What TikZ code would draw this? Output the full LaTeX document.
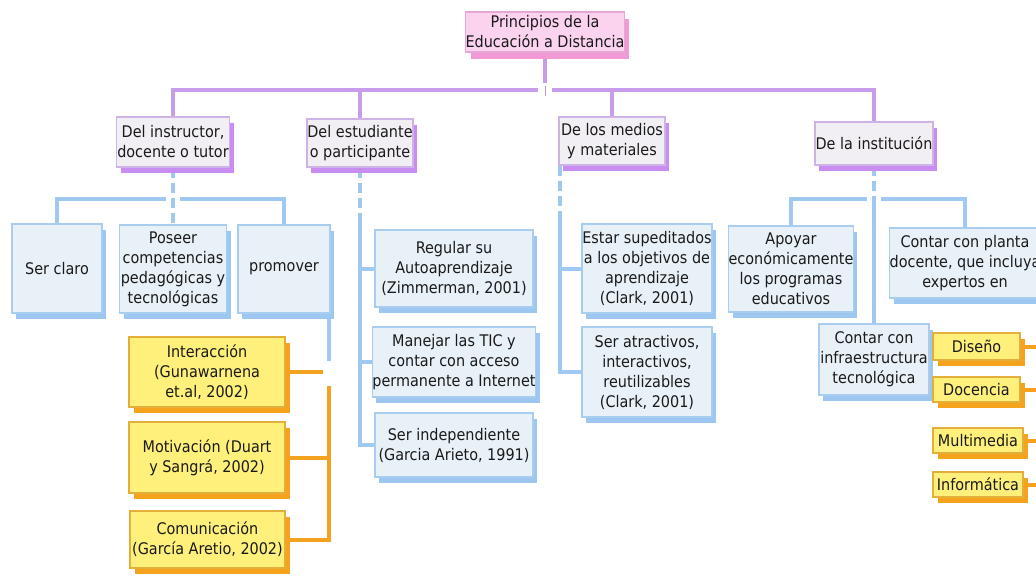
\documentclass[tikz,border=0pt]{standalone}
\usepackage{fontspec}
\setmainfont{DejaVu Sans Condensed}
\usetikzlibrary{shadows}
\pgfdeclarelayer{background}
\pgfsetlayers{background,main}
\definecolor{txt}{HTML}{1A1A1A}
\definecolor{rootfill}{HTML}{FBD3EF}
\definecolor{rootdraw}{HTML}{E6A6D6}
\definecolor{rootshadow}{HTML}{F29AD6}
\definecolor{lvfill}{HTML}{F1EFF3}
\definecolor{lvdraw}{HTML}{CDB3E6}
\definecolor{lvshadow}{HTML}{C98DF2}
\definecolor{purpleline}{HTML}{C79DEB}
\definecolor{bluefill}{HTML}{E8F1F8}
\definecolor{bluedraw}{HTML}{A9CDEE}
\definecolor{blueshadow}{HTML}{9DC7F0}
\definecolor{blueline}{HTML}{9FC9F1}
\definecolor{yfill}{HTML}{FFF07C}
\definecolor{ydraw}{HTML}{E3AE3A}
\definecolor{yshadow}{HTML}{F5A21C}
\definecolor{orangeline}{HTML}{F3A11E}
\begin{document}
\begin{tikzpicture}[x=1pt,y=-1pt,
  base/.style={rectangle, align=center, inner sep=0pt, text=txt,
    font=\fontsize{16}{20}\selectfont, line width=1.1pt},
  sz/.style 2 args={minimum width=#1pt, minimum height=#2pt},
  rootbox/.style={base, fill=rootfill, draw=rootdraw,
    general shadow={fill=rootshadow, shadow xshift=5pt, shadow yshift=-7pt}},
  lvbox/.style={base, fill=lvfill, draw=lvdraw,
    general shadow={fill=lvshadow, shadow xshift=4pt, shadow yshift=-6pt}},
  bluebox/.style={base, fill=bluefill, draw=bluedraw,
    general shadow={fill=blueshadow, shadow xshift=4pt, shadow yshift=-6pt}},
  ybox/.style={base, fill=yfill, draw=ydraw,
    general shadow={fill=yshadow, shadow xshift=5pt, shadow yshift=-6pt}},
  pline/.style={draw=purpleline, line width=4pt},
  bline/.style={draw=blueline, line width=4pt},
  oline/.style={draw=orangeline, line width=4pt},
  dashes/.style={dash pattern=on 10pt off 5pt},
]
\useasboundingbox (0,0) rectangle (1036,579);
\clip (0,0) rectangle (1036,579);

% ---------- nodes ----------
\node[rootbox, sz={156}{40}] (root) at (545,32) {Principios de la\\Educación a Distancia};

\node[lvbox, sz={113}{50}] (ins)  at (173,142)   {Del instructor,\\docente o tutor};
\node[lvbox, sz={106}{48}] (est)  at (360,143)   {Del estudiante\\o participante};
\node[lvbox, sz={106}{48}] (med)  at (612,141)   {De los medios\\y materiales};
\node[lvbox, sz={118}{43}] (inst) at (874,143.5) {De la institución};

\node[bluebox, sz={90}{89}]  (claro)  at (57,268.5)  {Ser claro};
\node[bluebox, sz={107}{88}] (poseer) at (173,269)   {Poseer\\competencias\\pedagógicas y\\tecnológicas};
\node[bluebox, sz={92}{88}]  (prom)   at (284,269)   {promover};
\node[bluebox, sz={158}{77}] (reg)    at (454,268.5) {Regular su\\Autoaprendizaje\\(Zimmerman, 2001)};
\node[bluebox, sz={158}{70}] (tic)    at (454,362)   {Manejar las TIC y\\contar con acceso\\permanente a Internet};
\node[bluebox, sz={158}{64}] (indep)  at (454,445)   {Ser independiente\\(Garcia Arieto, 1991)};
\node[bluebox, sz={130}{89}] (estar)  at (647,268.5) {Estar supeditados\\a los objetivos de\\aprendizaje\\(Clark, 2001)};
\node[bluebox, sz={130}{90}] (atr)    at (647,372)   {Ser atractivos,\\interactivos,\\reutilizables\\(Clark, 2001)};
\node[bluebox, sz={124}{86}] (apoyar) at (791,269)   {Apoyar\\económicamente\\los programas\\educativos};
\node[bluebox, sz={146}{70}] (planta) at (965,263)   {Contar con planta\\docente, que incluya\\expertos en};
\node[bluebox, sz={110}{71}] (infra)  at (874,359.5) {Contar con\\infraestructura\\tecnológica};

\node[ybox, sz={156}{70}] (inter) at (207,372)   {Interacción\\(Gunawarnena\\et.al, 2002)};
\node[ybox, sz={156}{71}] (motiv) at (207,457.5) {Motivación (Duart\\y Sangrá, 2002)};
\node[ybox, sz={155}{57}] (comun) at (207.5,539.5) {Comunicación\\(García Aretio, 2002)};
\node[ybox, sz={87}{27}] (dis) at (976.5,346.5) {Diseño};
\node[ybox, sz={87}{25}] (doc) at (976.5,389.5) {Docencia};
\node[ybox, sz={90}{25}] (mul) at (978,440.5)   {Multimedia};
\node[ybox, sz={90}{25}] (inf) at (978,484.5)   {Informática};

% ---------- connectors ----------
\begin{pgfonlayer}{background}
\fill[white] (0,0) rectangle (1036,579);
% root level
\coordinate (tj)  at (545,90);
\coordinate (tjL) at (538,90);
\coordinate (tjR) at (552,90);
\draw[pline] (root.south) -- ++(0,30);
\draw[purpleline!80!gray, line width=0.8pt] (tj) ++(0,-4) -- ++(0,10);
\draw[pline] (ins.north) |- (tjL);
\draw[pline] (est.north) |- (tjL);
\draw[pline] (med.north) |- (tjR);
\draw[pline] (inst.north) |- (tjR);
% instructor
\coordinate (ijL) at (166,199);
\coordinate (ijR) at (180,199);
\draw[bline, dashes] (ins.south) -- (poseer.north);
\draw[bline] (claro.north) |- (ijL);
\draw[bline] (prom.north) |- (ijR);
% promover
\path (prom.south east) ++(-2,0) coordinate (pt0) ++(0,47) coordinate (pt1)
      ++(0,25) coordinate (pt2);
\draw[bline] (pt0) -- (pt1);
\draw[oline] (pt2) |- (comun.east);
\draw[oline] (motiv.east) -- (motiv.east -| pt2);
\draw[oline] (inter.east) -- ([xshift=-6pt]inter.east -| pt0);
% estudiante
\path (est.south) ++(0,45) coordinate (estd);
\draw[bline, dashes] (est.south) -- (estd);
\draw[bline] (estd) |- (indep.west);
\draw[bline] (reg.west) -- (reg.west -| estd);
\draw[bline] (tic.west) -- (tic.west -| estd);
% medios
\path (med.south west) ++(2,0) coordinate (mt0) ++(0,48) coordinate (mt1);
\draw[bline, dashes] (mt0) -- (mt1);
\draw[bline] (mt1) |- (atr.west);
\draw[bline] (estar.west) -- (estar.west -| mt1);
% institucion
\coordinate (njC) at (874,199);
\coordinate (njL) at (867,199);
\coordinate (njR) at (881,199);
\draw[bline, dashes] (inst.south) -- (njC);
\draw[bline] (njC) -- (infra.north);
\draw[bline] (apoyar.north) |- (njL);
\draw[bline] (planta.north) |- (njR);
% expertos
\coordinate (rx) at (1045,0);
\draw[oline] (dis.east) -- (dis.east -| rx);
\draw[oline] (doc.east) -- (doc.east -| rx);
\draw[oline] (mul.east) -- (mul.east -| rx);
\draw[oline] (inf.east) -- (inf.east -| rx);
\end{pgfonlayer}
\end{tikzpicture}
\end{document}
